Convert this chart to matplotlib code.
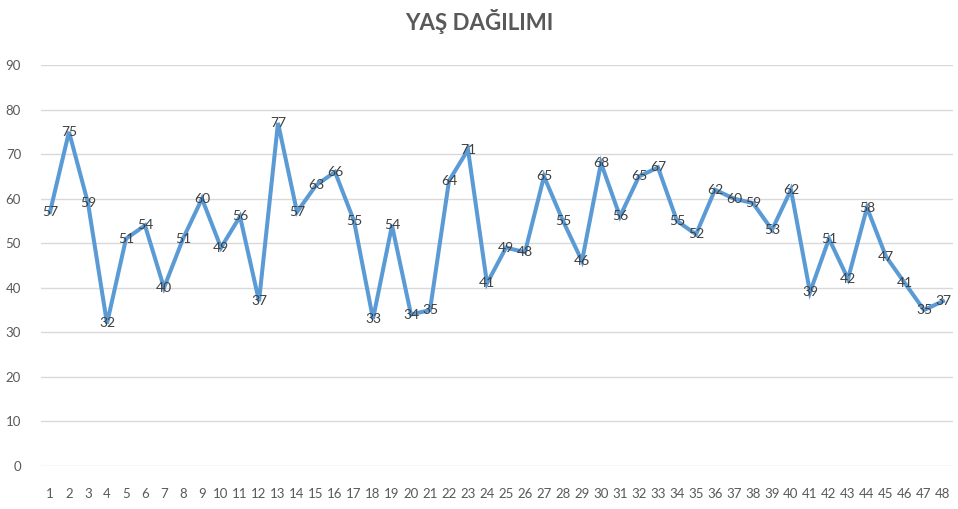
import matplotlib
matplotlib.use("Agg")
import matplotlib.pyplot as plt

# Yaş değerleri (sıra numarası -> yaş)
sira = list(range(1, 49))
yas = [57, 75, 59, 32, 51, 54, 40, 51, 60, 49, 56, 37, 77, 57, 63, 66, 55, 33,
       54, 34, 35, 64, 71, 41, 49, 48, 65, 55, 46, 68, 56, 65, 67, 55, 52, 62,
       60, 59, 53, 62, 39, 51, 42, 58, 47, 41, 35, 37]
y_ticks = [0, 10, 20, 30, 40, 50, 60, 70, 80, 90]

plt.rcParams['font.family'] = ['Lato', 'DejaVu Sans']

fig = plt.figure(figsize=(9.58, 5.09), dpi=100)
ax = fig.add_axes([40.5 / 958, 43 / 509, 912 / 958, 401 / 509])

ax.plot(sira, yas, color='#5B9BD5', linewidth=2.9, solid_joinstyle='miter', zorder=3)

# veri etiketleri noktanın üstüne ortalanmış
for x, y in zip(sira, yas):
    ax.text(x, y, str(y), ha='center', va='center', fontsize=10, color='#404040', zorder=4)

ax.set_xlim(0.5, 48.5)
ax.set_ylim(0, 90)
ax.set_yticks(y_ticks)
ax.set_xticks(sira)
ax.set_xticklabels([str(s) for s in sira])
ax.grid(axis='y', color='#D9D9D9', linewidth=1)
ax.set_axisbelow(True)
for s in ax.spines.values():
    s.set_visible(False)
ax.tick_params(axis='both', length=0, labelsize=9.5, colors='#595959')
ax.tick_params(axis='x', pad=16)
ax.tick_params(axis='y', pad=14)

fig.text(0.5, 1 - 22 / 509, 'YAŞ DAĞILIMI', ha='center', va='center',
         fontsize=16, fontweight='bold', color='#595959')

fig.savefig('out.png', dpi=100)
